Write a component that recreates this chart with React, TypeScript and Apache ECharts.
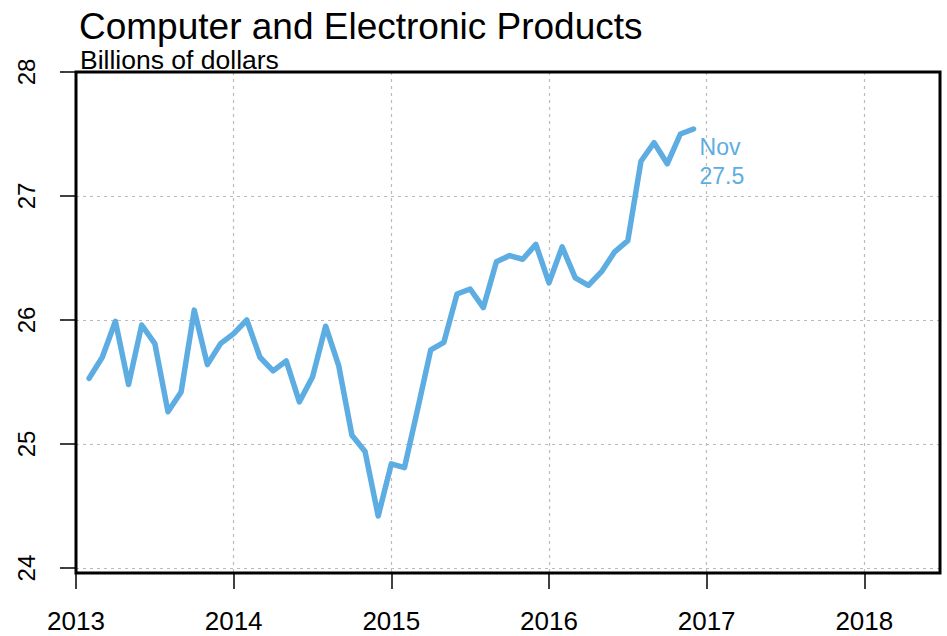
import React, { useEffect, useRef } from "react";
import * as echarts from "echarts";

const titleText = "Computer and Electronic Products";
const subtitleText = "Billions of dollars";
const startYear = 2013;
const monthNames = ["Jan", "Feb", "Mar", "Apr", "May", "Jun", "Jul", "Aug", "Sep", "Oct", "Nov", "Dec"];

const values2013 = [25.53, 25.70, 25.99, 25.48, 25.96, 25.81, 25.26, 25.42, 26.08, 25.64, 25.81, 25.89];
const values2014 = [26.00, 25.70, 25.59, 25.67, 25.34, 25.54, 25.95, 25.63, 25.07, 24.94, 24.42, 24.84];
const values2015 = [24.81, 25.28, 25.76, 25.82, 26.21, 26.25, 26.10, 26.47, 26.52, 26.49, 26.61, 26.30];
const values2016 = [26.59, 26.34, 26.28, 26.39, 26.55, 26.64, 27.28, 27.43, 27.26, 27.50, 27.54];

const xTicks = [2013, 2014, 2015, 2016, 2017, 2018];
const yTicks = [24, 25, 26, 27, 28];

const lineColor = "#5DADE2";
const fontFamily = "'Liberation Sans', Arial, Helvetica, sans-serif";

export default function App() {
  const ref = useRef<HTMLDivElement>(null);

  useEffect(() => {
    if (!ref.current) return;
    const chart = echarts.init(ref.current, undefined, { renderer: "svg" });

    const allValues = [...values2013, ...values2014, ...values2015, ...values2016];
    // Each monthly value is plotted at year + month/12 (end of month)
    const data = allValues.map((v, i) => {
      const year = startYear + Math.floor(i / 12);
      const m = (i % 12) + 1;
      return [year + m / 12, v];
    });
    const lastIdx = allValues.length - 1;
    const lastMonth = monthNames[lastIdx % 12];

    chart.setOption({
      animation: false,
      backgroundColor: "#ffffff",
      textStyle: { fontFamily },
      title: [
        {
          text: titleText,
          left: 74,
          top: 3,
          textStyle: { fontSize: 37, fontWeight: "normal", color: "#000", fontFamily },
        },
        {
          text: subtitleText,
          left: 75,
          top: 41,
          textStyle: { fontSize: 26.5, fontWeight: "normal", color: "#000", fontFamily },
        },
      ],
      grid: {
        left: 76,
        top: 72,
        right: 7,
        bottom: 63,
        show: true,
        borderColor: "#000",
        borderWidth: 3,
        backgroundColor: "transparent",
        z: 3,
      },
      xAxis: {
        type: "value",
        min: 2013,
        max: 2018.48,
        axisLine: { show: false },
        axisTick: {
          show: true,
          length: 16,
          lineStyle: { color: "#000", width: 1.5 },
          customValues: xTicks,
        },
        axisLabel: {
          customValues: xTicks,
          fontSize: 26,
          color: "#000",
          margin: 35,
          fontFamily,
          formatter: (v: number) => String(Math.round(v)),
        },
        splitLine: {
          show: true,
          lineStyle: { color: "#BBBBBB", type: [3, 4], width: 1.2 },
        },
      },
      yAxis: {
        type: "value",
        min: 23.96,
        max: 28,
        axisLine: { show: false },
        axisTick: {
          show: true,
          length: 16,
          lineStyle: { color: "#000", width: 1.5 },
          customValues: yTicks,
        },
        axisLabel: {
          customValues: yTicks,
          fontSize: 24,
          color: "#000",
          rotate: 90,
          margin: 38,
          fontFamily,
          formatter: (v: number) => String(Math.round(v)),
        },
        splitLine: {
          show: true,
          lineStyle: { color: "#BBBBBB", type: [3, 4], width: 1.2 },
        },
      },
      series: [
        {
          type: "line",
          data,
          showSymbol: false,
          symbol: "none",
          lineStyle: { color: lineColor, width: 5.5, cap: "round", join: "round" },
          itemStyle: { color: lineColor },
          endLabel: {
            show: true,
            formatter: () => `${lastMonth}\n${allValues[lastIdx].toFixed(1)}`,
            color: lineColor,
            fontSize: 23,
            lineHeight: 29,
            fontFamily,
            distance: 0,
            offset: [6, 32],
            align: "left",
          },
        },
      ],
    });

    return () => chart.dispose();
  }, []);

  return (
    <div
      ref={ref}
      style={{ position: "absolute", left: 0, top: 0, width: 947, height: 636 }}
    />
  );
}
